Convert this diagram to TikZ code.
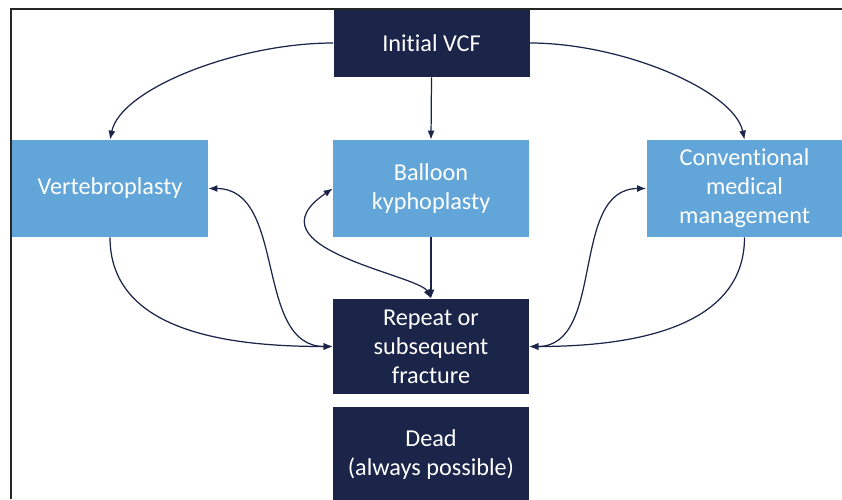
\documentclass[tikz,border=0pt]{standalone}
\usepackage{fontspec}
\setmainfont{Carlito}[Ligatures=NoCommon]
\usepackage{tikz}
\usetikzlibrary{arrows.meta}
\definecolor{navy}{RGB}{27,36,73}
\definecolor{skyblue}{RGB}{98,165,216}
\tikzstyle{link} = [draw=navy, -{Latex[length=1.8mm,width=1.4mm]}, line width=0.7pt]
\tikzstyle{twoway} = [link, {Latex[length=1.8mm,width=1.4mm]}-{Latex[length=1.8mm,width=1.4mm]}]
\tikzstyle{state} = [rectangle, fill=navy, text=white, align=center, minimum width=3.92cm, inner sep=0pt, font=\fontsize{13.8}{16.5}\selectfont]
\tikzstyle{option} = [state, fill=skyblue, minimum height=1.94cm]

\begin{document}
\begin{tikzpicture}
	\useasboundingbox (0,0) rectangle (16.84,-9.98);
	\clip (0,0) rectangle (16.84,-9.98);

	\node[state, minimum height=1.36cm] (init) at (8.63,-0.86) {Initial VCF};

	\node[option] (vert) at (2.20,-3.77) {Vertebroplasty};
	\node[option] (balloon) at (8.62,-3.77) {Balloon\\kyphoplasty};
	\node[option] (conv) at (14.89,-3.77) {Conventional\\medical\\management};

	\node[state, minimum height=1.90cm] (repeat) at (8.62,-6.93) {Repeat or\\subsequent\\fracture};
	\node[state, minimum height=1.92cm] (dead) at (8.62,-9.10) {Dead\\(always possible)};

	% ------------------- From initial fracture ------------------- %
	\draw[link] (init.west) to[out=180,in=78,out looseness=1.0,in looseness=0.55] (vert.north);
	\draw[link] (init.south) -- (balloon.north);
	\draw[link] (init.east) to[out=0,in=102,out looseness=1.0,in looseness=0.55] (conv.north);

	% ------------------- Into repeat fracture ------------------- %
	\draw[link] (vert.south) to[out=-90,in=180] (repeat.west);
	\draw[link] (balloon.south) -- (repeat.north);
	\draw[link] (conv.south) to[out=-90,in=0] (repeat.east);

	% ------------------- Back and forth ------------------- %
	\draw[twoway] (vert.east) to[out=0,in=180] (repeat.west);
	\draw[twoway] (balloon.west) .. controls +(-1.76,-1.2) and +(-0.24,0.48) .. (repeat.north);
	\draw[twoway] (conv.west) to[out=180,in=0] (repeat.east);

	% frame
	\draw[line width=1.1pt, black!85] (0.22,-9.98) -- (0.22,-0.18) -- (16.84,-0.18);
\end{tikzpicture}
\end{document}
